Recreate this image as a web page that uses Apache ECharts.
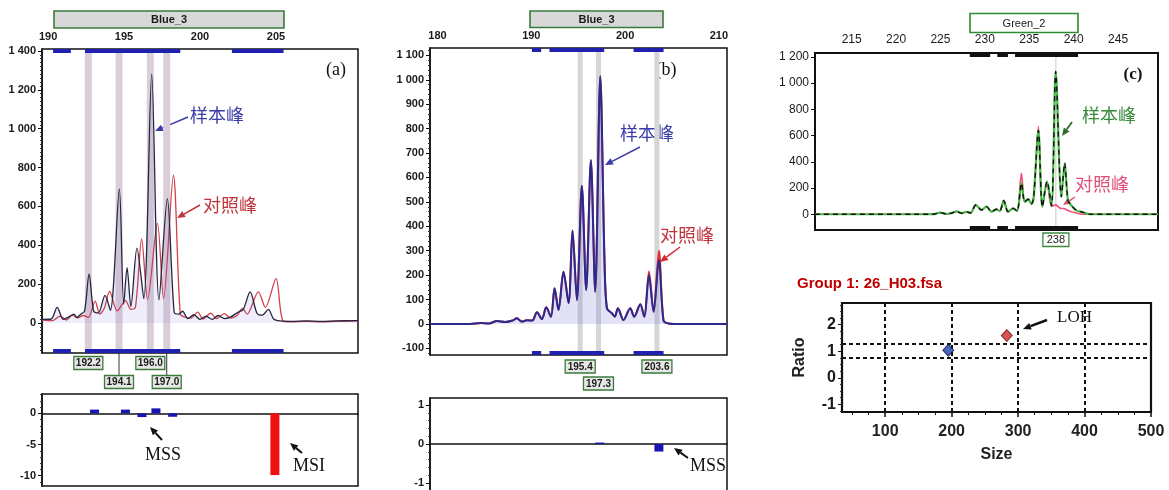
<!DOCTYPE html>
<html>
<head>
<meta charset="utf-8">
<script src="https://cdn.jsdelivr.net/npm/echarts@6/dist/echarts.min.js"></script>
<style>
  html, body { margin: 0; padding: 0; background: #fff; }
  #main { width: 1169px; height: 490px; }
</style>
</head>
<body>
<div id="main"></div>
<script>
// ---- panel (a): Blue_3, sample vs control ----
const aSample = [[189.6,18],[190.2,20],[190.6,80],[191.0,18],[191.35,30],[191.7,45],[191.9,28],[192.15,45],[192.4,60],[192.7,252],[193.0,60],[193.3,50],[193.75,142],[194.1,65],[194.69,690],[194.98,95],[195.2,285],[195.45,85],[195.85,385],[196.3,125],[196.82,1280],[197.3,118],[197.85,640],[198.3,55],[198.6,45],[198.85,60],[199.2,22],[199.6,42],[200.0,18],[200.4,35],[200.8,18],[201.2,38],[201.6,22],[202.0,30],[202.5,55],[202.85,70],[203.3,160],[203.75,50],[204.1,40],[204.5,70],[204.85,20],[205.3,10],[206,8],[207,10],[208,8],[209,10],[210.4,12]];
const aControl = [[189.6,15],[190.3,12],[190.8,35],[191.2,15],[191.6,40],[191.95,25],[192.3,38],[192.65,28],[193.1,112],[193.4,45],[193.7,75],[194.05,162],[194.55,62],[195.1,115],[195.45,70],[195.75,80],[196.16,432],[196.55,120],[197.2,512],[197.6,125],[198.25,760],[198.7,45],[199.0,30],[199.4,25],[199.85,55],[200.2,20],[200.7,50],[201.1,22],[201.6,48],[202.0,25],[202.4,35],[202.8,75],[203.1,45],[203.84,160],[204.3,80],[205.0,228],[205.45,12],[206,5],[207,8],[208,6],[209,8],[210.4,10]];
const aBins = [[190.33,191.5],[192.43,198.7],[202.1,205.5]];
const aBandPos = [192.65,194.67,196.73,197.81];
const aBandLabels = ['192.2','194.1','196.0','197.0'];
const aRatioBlue = [[193.06,0.6],[195.09,0.6],[196.18,-0.6],[197.1,0.8],[198.2,-0.55]];
const aRatioRed = [[204.93,-9.9]];
const aXTicks = [190,195,200,205];
const aYTicks = [0,200,400,600,800,1000,1200,1400];
const aRatioTicks = [-10,-5,0];

// ---- panel (b) ----
const bSample = [[179.2,0],[183.5,0],[184.6,4],[185.5,2],[186.33,12],[187.2,8],[188.0,14],[188.46,23],[189.0,10],[189.53,15],[190.1,14],[190.6,48],[191.13,20],[191.59,68],[192.09,30],[192.48,146],[192.9,57],[193.43,214],[193.97,85],[194.39,383],[194.86,98],[195.39,565],[195.85,139],[196.35,670],[196.81,132],[197.35,1014],[197.8,262],[198.06,64],[198.59,44],[198.9,30],[199.23,64],[199.83,16],[200.54,64],[200.97,30],[201.61,81],[202.04,30],[202.54,201],[203.03,50],[203.6,262],[204.09,15],[204.63,2],[205.5,0],[210.86,0]];
const bControl = [[179.2,0],[183.5,0],[184.6,4],[185.5,2],[186.33,12],[187.2,8],[188.0,14],[188.46,23],[189.0,10],[189.53,15],[190.1,14],[190.6,48],[191.13,20],[191.59,68],[192.09,30],[192.48,146],[192.9,57],[193.43,214],[193.97,85],[194.39,383],[194.86,98],[195.39,565],[195.85,139],[196.35,670],[196.81,132],[197.35,1014],[197.8,262],[198.06,64],[198.59,44],[198.9,30],[199.23,64],[199.83,16],[200.54,64],[200.97,30],[201.61,81],[202.04,30],[202.54,215],[203.03,50],[203.6,300],[204.09,15],[204.63,2],[205.5,0],[210.86,0]];
const bBins = [[190.06,191.05],[191.94,197.77],[200.9,204.1]];
const bBandPos = [195.21,197.16,203.39];
const bBandLabels = ['195.4','197.3','203.6'];
const bRatio = [[197.3,0.04],[203.6,-0.19]];
const bXTicks = [180,190,200,210];
const bYTicks = [-100,0,100,200,300,400,500,600,700,800,900,1000,1100];
const bRatioTicks = [-1,0,1];

// ---- panel (c): Green_2 ----
const cSample = [[210.87,0],[224.2,0],[224.93,13],[225.69,3],[226.3,10],[226.81,22],[227.37,8],[227.94,18],[228.39,10],[228.98,71],[229.62,33],[230.19,58],[230.75,20],[231.31,38],[231.68,25],[232.13,104],[232.61,20],[233.18,45],[233.63,25],[234.12,237],[234.49,95],[234.87,115],[235.25,80],[235.5,130],[236.03,640],[236.48,57],[237.0,249],[237.5,65],[237.98,1089],[238.62,134],[238.99,389],[239.36,104],[239.74,67],[240.3,30],[241.05,15],[241.8,0],[249.5,0]];
const cControl = [[210.87,0],[224.2,0],[224.93,13],[225.69,3],[226.3,10],[226.81,22],[227.37,8],[227.94,18],[228.39,10],[228.98,71],[229.62,33],[230.19,58],[230.75,20],[231.31,38],[231.68,25],[232.13,104],[232.61,20],[233.18,45],[233.63,25],[234.12,313],[234.49,95],[234.87,115],[235.25,80],[235.5,130],[236.03,669],[236.48,57],[237.0,249],[237.5,60],[237.98,72],[238.5,45],[239.0,42],[239.5,25],[240.2,12],[241.0,0],[249.5,0]];
const cBins = [[228.3,230.6],[231.4,232.6],[233.4,240.5]];
const cBandPos = [238.0];
const cBandLabels = ['238'];
const cXTicks = [215,220,225,230,235,240,245];
const cYTicks = [0,200,400,600,800,1000,1200];

// ---- ratio plot: Group 1 ----
const sNormal = [[195,1.04]];
const sLoh = [[283,1.59]];
const sThresh = [0.75,1.29];
const sGridX = [100,200,300,400];
const sXTicks = [100,200,300,400,500];
const sYTicks = [-1,0,1,2];

const SANS = '"Liberation Sans", Arial, sans-serif';
const SERIF = '"Liberation Serif", "Times New Roman", serif';
const CJK = '"Noto Sans CJK SC", sans-serif';

function fmtK(v) {
  v = Math.round(v);
  if (Math.abs(v) < 1000) return String(v);
  return Math.floor(v / 1000) + ' ' + String(v % 1000).padStart(3, '0');
}

function grid(left, top, width, height, bw) {
  return { left, top, width, height, show: true, borderColor: '#111', borderWidth: bw || 1.5,
    backgroundColor: '#fff', outerBoundsMode: 'none', containLabel: false };
}

function xTop(gi, min, max, ticks, size, weight) {
  return { type: 'value', gridIndex: gi, position: 'top', min, max,
    axisLine: { show: false, onZero: false }, axisTick: { show: false }, splitLine: { show: false },
    axisLabel: { customValues: ticks, margin: 7, color: '#1a1a1a', fontSize: size, fontWeight: weight, fontFamily: SANS } };
}
function xZero(gi, min, max) {
  return { type: 'value', gridIndex: gi, min, max,
    axisLine: { show: true, onZero: true, lineStyle: { color: '#111', width: 1.5 } },
    axisTick: { show: false }, axisLabel: { show: false }, splitLine: { show: false } };
}
function yLeft(gi, min, max, split, ticks, size, weight, minor, fmt) {
  return { type: 'value', gridIndex: gi, min, max, splitNumber: split,
    axisLine: { show: true, onZero: false, lineStyle: { color: '#111', width: 1.5 } },
    axisTick: { show: true, customValues: ticks, length: 4, lineStyle: { color: '#111' } },
    minorTick: { show: minor > 0, splitNumber: minor || 5, length: 2, lineStyle: { color: '#333' } },
    splitLine: { show: false },
    axisLabel: { customValues: ticks, margin: 6, color: '#1a1a1a', fontSize: size, fontWeight: weight, fontFamily: SANS,
      formatter: fmt || fmtK } };
}

function trace(gi, data, color, width, area, z, dash) {
  const s = { type: 'line', xAxisIndex: gi, yAxisIndex: gi, data, symbol: 'none', showSymbol: false,
    smooth: 0.3, lineStyle: { color, width, type: dash || 'solid' }, z, silent: true };
  if (area) s.areaStyle = { color: area };
  return s;
}

function binsSeries(gi, bins, color) {
  return { type: 'custom', xAxisIndex: gi, yAxisIndex: gi, clip: false, silent: true, z: 6, data: bins,
    renderItem(params, api) {
      const cs = params.coordSys;
      const x0 = api.coord([api.value(0), 0])[0];
      const x1 = api.coord([api.value(1), 0])[0];
      return { type: 'group', children: [
        { type: 'rect', shape: { x: x0, y: cs.y, width: x1 - x0, height: 4 }, style: { fill: color } },
        { type: 'rect', shape: { x: x0, y: cs.y + cs.height - 4, width: x1 - x0, height: 4 }, style: { fill: color } }
      ] };
    } };
}

function bandSeries(gi, pos, labels, o) {
  return { type: 'custom', xAxisIndex: gi, yAxisIndex: gi, clip: false, silent: true, z: 1,
    data: pos.map((p, i) => [p, i]),
    renderItem(params, api) {
      const cs = params.coordSys;
      const i = api.value(1);
      const x = api.coord([api.value(0), 0])[0];
      const row = i % 2;
      const bottom = cs.y + cs.height;
      const top = bottom + o.gap + row * o.rowStep;
      const kids = [
        { type: 'rect', shape: { x: x - o.bw / 2, y: cs.y, width: o.bw, height: cs.height }, style: { fill: o.bandColor } }
      ];
      if (row && o.connector) {
        kids.push({ type: 'line', shape: { x1: x, y1: bottom, x2: x, y2: top }, style: { stroke: '#333', lineWidth: 1 } });
      }
      kids.push({ type: 'rect', shape: { x: x - o.boxW / 2, y: top, width: o.boxW, height: o.boxH },
        style: { fill: o.boxFill, stroke: o.boxStroke, lineWidth: 1.3 } });
      kids.push({ type: 'text', style: { x: x, y: top + o.boxH / 2 + 0.5, text: labels[i],
        align: 'center', verticalAlign: 'middle', textAlign: 'center', textVerticalAlign: 'middle',
        fontSize: o.fontSize, fontWeight: o.fontWeight, fontFamily: SANS, fill: '#1a1a1a' } });
      return { type: 'group', children: kids };
    } };
}

function ratioBars(gi, groups) {
  const data = [];
  groups.forEach(g => g.values.forEach(v => data.push({ value: v, itemStyle: { color: g.color } })));
  return { type: 'bar', xAxisIndex: gi, yAxisIndex: gi, barWidth: 9, data, silent: true, z: 3 };
}

function arrow(x1, y1, x2, y2, color, w) {
  const a = Math.atan2(y2 - y1, x2 - x1);
  const L = 8, H = 3.5;
  const bx = x2 - L * Math.cos(a), by = y2 - L * Math.sin(a);
  return [
    { type: 'line', shape: { x1, y1, x2: bx, y2: by }, style: { stroke: color, lineWidth: w || 1.5 } },
    { type: 'polygon', shape: { points: [[x2, y2], [bx + H * Math.sin(a), by - H * Math.cos(a)], [bx - H * Math.sin(a), by + H * Math.cos(a)]] },
      style: { fill: color } }
  ];
}
function label(x, y, text, size, color, family, weight, align) {
  return { type: 'text', x, y, style: { text, fontSize: size, fontFamily: family, fontWeight: weight || 'normal', fill: color,
    align: align || 'left', verticalAlign: 'middle', textAlign: align || 'left', textVerticalAlign: 'middle' } };
}
function header(x, y, w, h, text, fill, stroke, weight) {
  return [
    { type: 'rect', shape: { x, y, width: w, height: h }, style: { fill, stroke, lineWidth: 1.6 } },
    label(x + w / 2, y + h / 2 + 0.5, text, 11, '#1a1a1a', SANS, weight, 'center')
  ];
}

const bandStyleA = { bw: 7, bandColor: '#dacfd8', gap: 3.5, rowStep: 19, boxW: 29, boxH: 13, boxFill: '#e6e8e6', boxStroke: '#3d7a3d', fontSize: 10, fontWeight: 'bold', connector: true };
const bandStyleB = { bw: 5, bandColor: '#d6d6d6', gap: 5, rowStep: 17, boxW: 30, boxH: 13, boxFill: '#e6e8e6', boxStroke: '#3d7a3d', fontSize: 10, fontWeight: 'bold', connector: false };
const bandStyleC = { bw: 1, bandColor: '#c8c8c8', gap: 3, rowStep: 17, boxW: 26, boxH: 13.5, boxFill: '#fff', boxStroke: '#3d8a3d', fontSize: 11, fontWeight: 'normal', connector: false };

const graphics = [].concat(
  header(54, 11, 230, 17, 'Blue_3', '#d8d8d8', '#3a7a3a', 'bold'),
  header(530, 11, 133, 16.5, 'Blue_3', '#d8d8d8', '#3a7a3a', 'bold'),
  header(970, 13.5, 108, 19, 'Green_2', '#fff', '#2e8b2e', 'normal'),
  [label(336, 70, '(a)', 18, '#111', SERIF, 'normal', 'center'),
   label(666, 70, '(b)', 18, '#111', SERIF, 'normal', 'center'),
   label(1133, 75, '(c)', 17, '#111', SERIF, 'bold', 'center'),
   label(190, 115, '样本峰', 18, '#3c3ca8', CJK),
   label(203, 205, '对照峰', 18, '#c0343c', CJK),
   label(620, 133, '样本峰', 18, '#3c3ca8', CJK),
   label(660, 235, '对照峰', 18, '#c0343c', CJK),
   label(1082, 115, '样本峰', 18, '#3a8a3a', CJK),
   label(1075, 184, '对照峰', 18, '#e0507a', CJK),
   label(145, 455, 'MSS', 18, '#111', SERIF),
   label(293, 466, 'MSI', 18, '#111', SERIF),
   label(690, 466, 'MSS', 18, '#111', SERIF),
   label(1057, 318, 'LOH', 17, '#111', SERIF),
   label(797, 284, 'Group 1: 26_H03.fsa', 15, '#c00000', SANS, 'bold')],
  arrow(188, 117, 155, 131, '#3c3ca8', 1.5),
  arrow(200, 205, 177, 218, '#c0343c', 1.5),
  arrow(640, 147, 605, 165, '#3c3ca8', 1.5),
  arrow(680, 247, 660, 262, '#d02a30', 1.5),
  arrow(1072, 122, 1062, 136, '#2e6e2e', 1.8),
  arrow(1075, 197, 1063, 205, '#e0507a', 1.5),
  arrow(162, 440, 150, 427, '#111', 2),
  arrow(302, 453, 290, 443, '#111', 2),
  arrow(688, 458, 674, 448, '#111', 2),
  arrow(1047, 320, 1023, 329, '#111', 2.5)
);

const option = {
  animation: false,
  backgroundColor: '#fff',
  grid: [
    grid(42, 49, 316, 304),
    grid(42, 394, 316, 92),
    grid(430, 48, 297, 307),
    grid(430, 398, 297, 93),
    grid(815, 53, 343, 177, 2),
    grid(842, 303, 309, 109, 2.2)
  ],
  xAxis: [
    xTop(0, 189.6, 210.4, aXTicks, 11, 'bold'),
    xZero(1, 189.6, 210.4),
    xTop(2, 179.2, 210.86, bXTicks, 11, 'bold'),
    xZero(3, 179.2, 210.86),
    xTop(4, 210.87, 249.5, cXTicks, 12, 'normal'),
    { type: 'value', gridIndex: 5, min: 35, max: 500, name: 'Size', nameLocation: 'middle', nameGap: 35,
      nameTextStyle: { fontSize: 16, fontWeight: 'bold', fontFamily: SANS, color: '#222' },
      axisLine: { show: true, onZero: false, lineStyle: { color: '#111', width: 2 } },
      axisTick: { show: true, customValues: sXTicks, length: 5, lineStyle: { color: '#111', width: 1.5 } },
      minorTick: { show: true, splitNumber: 4, length: 3, lineStyle: { color: '#111' } },
      splitLine: { show: false },
      axisLabel: { customValues: sXTicks, margin: 12, fontSize: 16, fontWeight: 'bold', fontFamily: SANS, color: '#222' } }
  ],
  yAxis: [
    yLeft(0, -155, 1410, 8, aYTicks, 11, 'bold', 10),
    yLeft(1, -11.65, 3.1, 3, aRatioTicks, 11, 'bold', 5),
    yLeft(2, -127, 1130, 12, bYTicks, 11, 'bold', 5),
    yLeft(3, -1.2, 1.18, 2, bRatioTicks, 11, 'bold', 5),
    yLeft(4, -120, 1230, 7, cYTicks, 12, 'normal', 0),
    Object.assign(yLeft(5, -1.29, 2.82, 4, sYTicks, 16, 'bold', 4, v => String(v)), {
      name: 'Ratio', nameLocation: 'middle', nameGap: 34,
      nameTextStyle: { fontSize: 16, fontWeight: 'bold', fontFamily: SANS, color: '#222' } })
  ],
  graphic: { elements: graphics },
  series: [
    bandSeries(0, aBandPos, aBandLabels, bandStyleA),
    binsSeries(0, aBins, '#1f1fb0'),
    trace(0, aControl, '#d2404a', 1.3, null, 3),
    trace(0, aSample, '#262640', 1.3, 'rgba(110,100,200,0.16)', 4),
    ratioBars(1, [{ values: aRatioBlue, color: '#1515b0' }, { values: aRatioRed, color: '#f01010' }]),

    bandSeries(2, bBandPos, bBandLabels, bandStyleB),
    binsSeries(2, bBins, '#1f1fb0'),
    trace(2, bControl, '#e0303a', 2, null, 3),
    trace(2, bSample, '#2b2b8f', 2, 'rgba(120,120,215,0.3)', 4),
    ratioBars(3, [{ values: bRatio, color: '#1515b0' }]),

    bandSeries(4, cBandPos, cBandLabels, bandStyleC),
    binsSeries(4, cBins, '#111'),
    trace(4, cControl, '#f0507a', 1.6, null, 3),
    trace(4, cSample, '#48b848', 2.2, null, 4),
    trace(4, cSample, '#111', 1.4, null, 5, [5, 4]),

    { type: 'scatter', xAxisIndex: 5, yAxisIndex: 5, symbol: 'diamond', symbolSize: [11, 12], data: sNormal, z: 5,
      itemStyle: { color: '#1c3fa8', borderColor: '#0a1a55', borderWidth: 1 },
      markLine: { silent: true, symbol: ['none', 'none'], label: { show: false }, animation: false,
        lineStyle: { color: '#111', type: [4, 3], width: 2 },
        data: sGridX.map(v => ({ xAxis: v })).concat(sThresh.map(v => ({ yAxis: v }))) } },
    { type: 'scatter', xAxisIndex: 5, yAxisIndex: 5, symbol: 'diamond', symbolSize: [11, 12], data: sLoh, z: 5,
      itemStyle: { color: '#d02828', borderColor: '#6a1010', borderWidth: 1 } }
  ]
};

const chart = echarts.init(document.getElementById('main'));
chart.setOption(option);
</script>
</body>
</html>
